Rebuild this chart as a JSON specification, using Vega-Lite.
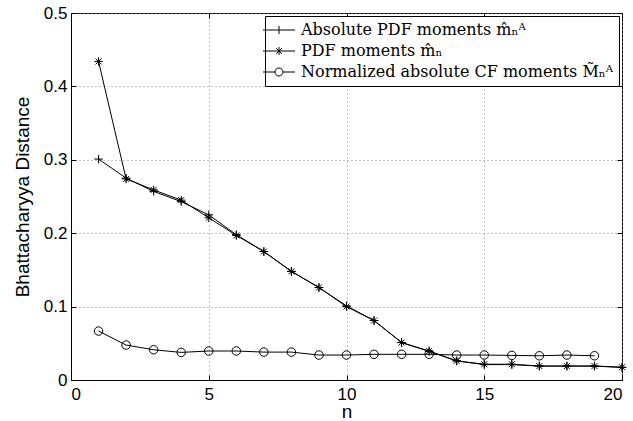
{
  "$schema": "https://vega.github.io/schema/vega-lite/v6.json",
  "width": 551,
  "height": 367,
  "autosize": {"type": "none"},
  "padding": {"left": 71, "top": 13, "right": 11, "bottom": 41},
  "background": "white",
  "config": {
    "view": {"stroke": "black", "strokeWidth": 1},
    "axis": {
      "labelFont": "Liberation Sans",
      "titleFont": "Liberation Sans",
      "labelFontSize": 17,
      "titleFontSize": 19,
      "titleFontWeight": "normal",
      "labelColor": "black",
      "titleColor": "black",
      "domainColor": "black",
      "tickColor": "black",
      "gridColor": "#8c8c8c",
      "gridDash": [1, 3],
      "gridWidth": 1
    }
  },
  "data": {
    "values": [
      {"n": 1, "s": "Absolute PDF moments m̂ₙᴬ", "v": 0.301},
      {"n": 2, "s": "Absolute PDF moments m̂ₙᴬ", "v": 0.275},
      {"n": 3, "s": "Absolute PDF moments m̂ₙᴬ", "v": 0.257},
      {"n": 4, "s": "Absolute PDF moments m̂ₙᴬ", "v": 0.243},
      {"n": 5, "s": "Absolute PDF moments m̂ₙᴬ", "v": 0.225},
      {"n": 6, "s": "Absolute PDF moments m̂ₙᴬ", "v": 0.198},
      {"n": 7, "s": "Absolute PDF moments m̂ₙᴬ", "v": 0.175},
      {"n": 8, "s": "Absolute PDF moments m̂ₙᴬ", "v": 0.148},
      {"n": 9, "s": "Absolute PDF moments m̂ₙᴬ", "v": 0.126},
      {"n": 10, "s": "Absolute PDF moments m̂ₙᴬ", "v": 0.101},
      {"n": 11, "s": "Absolute PDF moments m̂ₙᴬ", "v": 0.081},
      {"n": 12, "s": "Absolute PDF moments m̂ₙᴬ", "v": 0.051},
      {"n": 13, "s": "Absolute PDF moments m̂ₙᴬ", "v": 0.039},
      {"n": 14, "s": "Absolute PDF moments m̂ₙᴬ", "v": 0.026},
      {"n": 15, "s": "Absolute PDF moments m̂ₙᴬ", "v": 0.021},
      {"n": 16, "s": "Absolute PDF moments m̂ₙᴬ", "v": 0.021},
      {"n": 17, "s": "Absolute PDF moments m̂ₙᴬ", "v": 0.019},
      {"n": 18, "s": "Absolute PDF moments m̂ₙᴬ", "v": 0.019},
      {"n": 19, "s": "Absolute PDF moments m̂ₙᴬ", "v": 0.019},
      {"n": 20, "s": "Absolute PDF moments m̂ₙᴬ", "v": 0.017},
      {"n": 1, "s": "PDF moments m̂ₙ", "v": 0.434},
      {"n": 2, "s": "PDF moments m̂ₙ", "v": 0.274},
      {"n": 3, "s": "PDF moments m̂ₙ", "v": 0.259},
      {"n": 4, "s": "PDF moments m̂ₙ", "v": 0.245},
      {"n": 5, "s": "PDF moments m̂ₙ", "v": 0.221},
      {"n": 6, "s": "PDF moments m̂ₙ", "v": 0.197},
      {"n": 7, "s": "PDF moments m̂ₙ", "v": 0.175},
      {"n": 8, "s": "PDF moments m̂ₙ", "v": 0.148},
      {"n": 9, "s": "PDF moments m̂ₙ", "v": 0.126},
      {"n": 10, "s": "PDF moments m̂ₙ", "v": 0.1},
      {"n": 11, "s": "PDF moments m̂ₙ", "v": 0.081},
      {"n": 12, "s": "PDF moments m̂ₙ", "v": 0.051},
      {"n": 13, "s": "PDF moments m̂ₙ", "v": 0.0395},
      {"n": 14, "s": "PDF moments m̂ₙ", "v": 0.026},
      {"n": 15, "s": "PDF moments m̂ₙ", "v": 0.0215},
      {"n": 16, "s": "PDF moments m̂ₙ", "v": 0.0215},
      {"n": 17, "s": "PDF moments m̂ₙ", "v": 0.019},
      {"n": 18, "s": "PDF moments m̂ₙ", "v": 0.019},
      {"n": 19, "s": "PDF moments m̂ₙ", "v": 0.019},
      {"n": 20, "s": "PDF moments m̂ₙ", "v": 0.0175},
      {"n": 1, "s": "Normalized absolute CF moments M̃ₙᴬ", "v": 0.0667},
      {"n": 2, "s": "Normalized absolute CF moments M̃ₙᴬ", "v": 0.0476},
      {"n": 3, "s": "Normalized absolute CF moments M̃ₙᴬ", "v": 0.0412},
      {"n": 4, "s": "Normalized absolute CF moments M̃ₙᴬ", "v": 0.0376},
      {"n": 5, "s": "Normalized absolute CF moments M̃ₙᴬ", "v": 0.0395},
      {"n": 6, "s": "Normalized absolute CF moments M̃ₙᴬ", "v": 0.0395},
      {"n": 7, "s": "Normalized absolute CF moments M̃ₙᴬ", "v": 0.038},
      {"n": 8, "s": "Normalized absolute CF moments M̃ₙᴬ", "v": 0.038},
      {"n": 9, "s": "Normalized absolute CF moments M̃ₙᴬ", "v": 0.034},
      {"n": 10, "s": "Normalized absolute CF moments M̃ₙᴬ", "v": 0.034},
      {"n": 11, "s": "Normalized absolute CF moments M̃ₙᴬ", "v": 0.035},
      {"n": 12, "s": "Normalized absolute CF moments M̃ₙᴬ", "v": 0.035},
      {"n": 13, "s": "Normalized absolute CF moments M̃ₙᴬ", "v": 0.035},
      {"n": 14, "s": "Normalized absolute CF moments M̃ₙᴬ", "v": 0.034},
      {"n": 15, "s": "Normalized absolute CF moments M̃ₙᴬ", "v": 0.034},
      {"n": 16, "s": "Normalized absolute CF moments M̃ₙᴬ", "v": 0.0335},
      {"n": 17, "s": "Normalized absolute CF moments M̃ₙᴬ", "v": 0.033},
      {"n": 18, "s": "Normalized absolute CF moments M̃ₙᴬ", "v": 0.034},
      {"n": 19, "s": "Normalized absolute CF moments M̃ₙᴬ", "v": 0.033}
    ]
  },
  "layer": [
    {
      "mark": {"type": "line", "color": "black", "strokeWidth": 1},
      "encoding": {
        "x": {"field": "n", "type": "quantitative", "title": "n",
          "scale": {"domain": [0, 20], "nice": false},
          "axis": {"values": [0, 5, 10, 15, 20], "grid": true, "ticks": false, "tickSize": 0, "labelPadding": 6, "titlePadding": 0}},
        "y": {"field": "v", "type": "quantitative", "title": "Bhattacharyya Distance",
          "scale": {"domain": [0, 0.5], "nice": false},
          "axis": {"values": [0, 0.1, 0.2, 0.3, 0.4, 0.5], "format": ".1~f", "grid": true, "ticks": false, "tickSize": 0, "labelPadding": 4, "titlePadding": 11}},
        "detail": {"field": "s"}
      }
    },
    {
      "mark": {"type": "point", "filled": false, "color": "black", "strokeWidth": 1, "size": 72, "opacity": 1},
      "encoding": {
        "x": {"field": "n", "type": "quantitative",
          "scale": {"domain": [0, 20], "nice": false},
          "axis": {"orient": "top", "values": [0, 5, 10, 15, 20], "labels": false, "grid": false, "domain": false, "ticks": true, "tickSize": 5, "tickWidth": 1, "offset": -5, "title": null}},
        "y": {"field": "v", "type": "quantitative",
          "scale": {"domain": [0, 0.5], "nice": false},
          "axis": {"orient": "right", "values": [0, 0.1, 0.2, 0.3, 0.4, 0.5], "labels": false, "grid": false, "domain": false, "ticks": true, "tickSize": 5, "tickWidth": 1, "offset": -5, "title": null}},
        "shape": {"field": "s", "type": "nominal",
          "scale": {
            "domain": ["Absolute PDF moments m̂ₙᴬ", "PDF moments m̂ₙ", "Normalized absolute CF moments M̃ₙᴬ"],
            "range": ["M-1,0H1M0,-1V1", "M-1,0H1M0,-1V1M-0.7,-0.7L0.7,0.7M-0.7,0.7L0.7,-0.7", "circle"]
          },
          "legend": null}
      }
    },
    {
      "mark": {"type": "point", "filled": false, "color": "black", "strokeWidth": 1, "size": 64, "opacity": 0},
      "encoding": {
        "x": {"field": "n", "type": "quantitative", "scale": {"domain": [0, 20], "nice": false},
          "axis": {"orient": "bottom", "values": [0, 5, 10, 15, 20], "labels": false, "grid": false, "domain": false, "ticks": true, "tickSize": 5, "tickWidth": 1, "offset": -5, "title": null}},
        "y": {"field": "v", "type": "quantitative", "scale": {"domain": [0, 0.5], "nice": false},
          "axis": {"orient": "left", "values": [0, 0.1, 0.2, 0.3, 0.4, 0.5], "labels": false, "grid": false, "domain": false, "ticks": true, "tickSize": 5, "tickWidth": 1, "offset": -5, "title": null}},
        "shape": {"field": "s", "type": "nominal",
          "scale": {
            "domain": ["Absolute PDF moments m̂ₙᴬ", "PDF moments m̂ₙ", "Normalized absolute CF moments M̃ₙᴬ"],
            "range": ["M-4,0H4M0,-1V1", "M-4,0H4M0,-1V1M-0.7,-0.7L0.7,0.7M-0.7,0.7L0.7,-0.7", "M-4,0H-1M1,0H4M1,0A1,1,0,1,1,-1,0A1,1,0,1,1,1,0"]
          },
          "legend": {
            "title": null,
            "orient": "top-right",
            "offset": 3,
            "symbolSize": 64,
            "symbolOpacity": 1,
            "symbolStrokeColor": "black",
            "symbolFillColor": "transparent",
            "symbolStrokeWidth": 1,
            "labelFont": "DejaVu Serif",
            "labelFontSize": 16,
            "labelColor": "black",
            "labelOffset": 14,
            "labelLimit": 500,
            "rowPadding": 5,
            "padding": 6,
            "strokeColor": "black",
            "fillColor": "white"
          }
        }
      }
    }
  ],
  "resolve": {"scale": {"x": "independent", "y": "independent", "shape": "independent"}, "axis": {"x": "independent", "y": "independent"}}
}
